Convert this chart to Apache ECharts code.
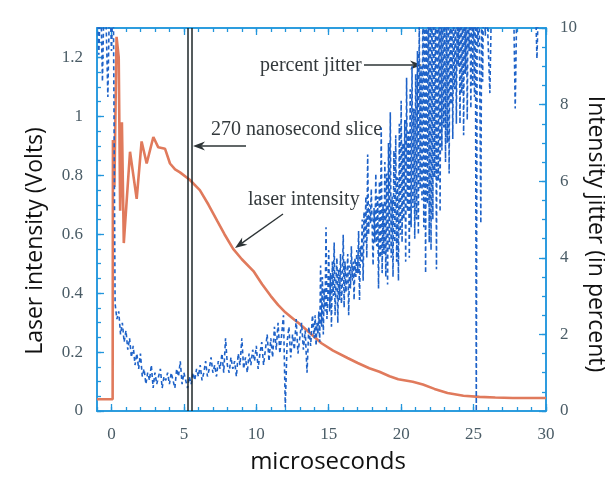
<!DOCTYPE html>
<html>
<head>
<meta charset="utf-8">
<script src="https://cdn.jsdelivr.net/npm/echarts@6/dist/echarts.min.js"></script>
<style>html,body{margin:0;padding:0;background:#fff}#c{width:605px;height:481px}</style>
</head>
<body>
<div id="c"></div>
<script>
// ---- data ----
// laser intensity (Volts) vs time (microseconds)
const laserTime = [-1, 0.08, 0.1, 0.2, 0.35, 0.5, 0.6, 0.72, 0.85, 1.28, 1.74, 2.08, 2.43, 2.89, 3.23, 3.7, 4.04, 4.39, 4.73, 5.4, 6.1, 6.7, 7.3, 7.8, 8.4, 9.0, 9.8, 10.4, 11.0, 11.5, 12.0, 12.5, 13.0, 13.7, 14.5, 15.3, 16.3, 17.0, 17.8, 18.5, 19.2, 19.8, 20.8, 21.5, 22.3, 23.2, 24.3, 25.4, 26.5, 27.7, 30];
const laserVolts = [0.04, 0.04, 0.92, 0.76, 1.27, 1.2, 0.68, 0.98, 0.57, 0.88, 0.72, 0.915, 0.84, 0.93, 0.895, 0.89, 0.84, 0.82, 0.81, 0.785, 0.75, 0.70, 0.645, 0.60, 0.55, 0.515, 0.475, 0.43, 0.39, 0.36, 0.335, 0.315, 0.295, 0.265, 0.23, 0.205, 0.18, 0.163, 0.145, 0.133, 0.118, 0.108, 0.099, 0.09, 0.075, 0.061, 0.052, 0.048, 0.046, 0.044, 0.044];

// percent jitter, sampled on regular grids
const jitterEarlyStart = -1, jitterEarlyStep = 0.125;   // -1 .. 13.875
const jitterEarly = [
  11, 9.3, 11, 8.6, 11, 10.2, 8.2, 11,
  9.4, 11, 2.8, 2.4, 2.6, 2.0, 2.3, 1.8,
  2.1, 1.6, 1.9, 1.4, 1.7, 1.2, 1.5, 1.1,
  1.5, 0.9, 1.1, 0.7, 1.0, 0.8, 1.2, 0.6,
  1.0, 0.7, 0.9, 1.1, 0.6, 0.9, 0.8, 1.0,
  0.7, 1.0, 0.8, 0.6, 1.1, 0.9, 1.3, 0.7,
  1.0, 0.8, 0.6, 0.9, 0.7, 1.0, 0.8, 1.1,
  0.9, 1.2, 0.8, 1.0, 1.3, 0.9, 1.1, 1.4,
  1.0, 1.2, 0.9, 1.3, 1.1, 1.5, 1.0, 1.9,
  1.2, 1.0, 1.4, 1.1, 1.3, 0.9, 1.5, 1.2,
  1.9, 1.1, 1.4, 1.0, 1.5, 1.2, 1.6, 1.3,
  1.7, 1.1, 1.5, 1.8, 1.2, 1.6, 2.0, 1.3,
  1.9, 1.4, 2.2, 1.6, 2.3, 1.5, 2.0, 2.5,
  0.1, 1.8, 2.2, 1.4, 2.0, 1.6, 2.4, 1.5,
  1.9, 2.3, 1.6, 2.1, 1.0, 2.2, 1.7, 2.5
];
const jitterMidStart = 14, jitterMidStep = 0.0625;      // 14 .. 25.9375
const jitterMid = [
  1.9, 2.5, 1.7, 2.3, 2.0, 2.6, 1.8, 3.8, 2.2, 3.5, 2.0, 3.2, 2.6, 4.8, 2.4, 3.0,
  4.2, 2.6, 3.6, 2.2, 3.9, 3.0, 4.4, 2.5, 3.4, 4.0, 2.3, 3.7, 2.9, 4.1, 2.8, 3.3,
  4.6, 2.7, 3.9, 3.1, 3.5, 4.1, 2.5, 3.8, 3.2, 4.3, 3.4, 3.9, 2.9, 4.0, 3.5, 4.2,
  3.6, 4.7, 2.9, 4.3, 3.9, 5.0, 3.4, 5.2, 4.4, 5.6, 4.0, 6.7, 4.6, 5.4, 4.9, 5.8,
  5.8, 3.8, 5.3, 4.4, 6.2, 4.3, 5.6, 3.2, 6.0, 4.0, 7.4, 3.6, 5.4, 4.1, 6.5, 3.5,
  6.2, 3.3, 7.0, 4.2, 7.8, 4.0, 5.6, 3.5, 6.8, 4.4, 7.2, 3.9, 6.1, 3.4, 7.5, 4.6,
  8.1, 4.4, 7.0, 5.0, 7.6, 3.9, 8.7, 5.2, 7.3, 4.0, 8.4, 4.8, 9.0, 5.3, 7.9, 4.5,
  8.8, 5.0, 9.4, 4.6, 10.4, 5.8, 9.0, 5.5, 11, 4.8, 11, 3.6, 11, 5.4, 11, 4.4,
  11, 4.2, 11, 5.0, 11, 6.1, 11, 3.7, 11, 6.0, 11, 5.2, 11, 6.8, 11, 7.4,
  11, 6.5, 11, 7.0, 11, 6.2, 11, 8.0, 11, 7.1, 11, 8.4, 11, 7.5, 11, 9.0,
  11, 7.5, 11, 8.3, 11, 7.2, 11, 8.8, 11, 7.6, 11, 9.4, 11, 7.9, 11, 8.5,
  11, 8.2, 11, 0.0, 11, 9.5, 11, 11, 4.9, 11, 8.6, 11, 11, 9.8, 11, 11
];
const jitterLateStart = 26, jitterLateStep = 0.125;     // 26 .. 30
const jitterLate = [
  11, 8.3, 11, 11, 11, 11, 11, 11,
  11, 11, 11, 11, 11, 11, 11, 7.9,
  11, 11, 11, 11, 11, 11, 11, 11,
  11, 11, 11, 9.2, 11, 11, 11, 11,
  11
];

// 270 ns slice boundaries (microseconds)
const sliceEdges = [5.3, 5.57];

// ticks
const timeMajorTicks = [0, 5, 10, 15, 20, 25, 30];
const timeMinorTicks = [-1, 0, 1, 2, 3, 4, 5, 6, 7, 8, 9, 10, 11, 12, 13, 14, 15, 16, 17, 18, 19, 20, 21, 22, 23, 24, 25, 26, 27, 28, 29, 30];
const voltMajorTicks = [0, 0.2, 0.4, 0.6, 0.8, 1, 1.2];
const voltMinorTicks = [0, 0.05, 0.1, 0.15, 0.2, 0.25, 0.3, 0.35, 0.4, 0.45, 0.5, 0.55, 0.6, 0.65, 0.7, 0.75, 0.8, 0.85, 0.9, 0.95, 1, 1.05, 1.1, 1.15, 1.2, 1.25, 1.3];
const jitterMajorTicks = [0, 2, 4, 6, 8, 10];
const jitterMinorTicks = [0, 0.5, 1, 1.5, 2, 2.5, 3, 3.5, 4, 4.5, 5, 5.5, 6, 6.5, 7, 7.5, 8, 8.5, 9, 9.5, 10];

// ---- chart ----
const AXIS = '#2196dc';
const LABEL = '#4a5c66';
const SERIF = '"Liberation Serif", "DejaVu Serif", serif';
const SANS = '"Open Sans", "Noto Sans", sans-serif';

const laserData = laserTime.map((t, i) => [t, laserVolts[i]]);
const seg = (start, step, vals) => vals.map((v, i) => [start + i * step, v]);
const jitterData = [].concat(
  seg(jitterEarlyStart, jitterEarlyStep, jitterEarly),
  seg(jitterMidStart, jitterMidStep, jitterMid),
  seg(jitterLateStart, jitterLateStep, jitterLate)
);

function axisBase(extra) {
  return Object.assign({
    type: 'value',
    splitLine: { show: false },
    axisLine: { show: true, onZero: false, lineStyle: { color: AXIS, width: 1.5 } },
  }, extra);
}
function ticks(values, len) {
  return { show: true, inside: true, length: len, customValues: values, lineStyle: { color: AXIS, width: 1.3 } };
}
const lab = (values, margin) => ({ show: true, customValues: values, margin: margin, color: LABEL, fontFamily: SERIF, fontSize: 17 });

const chart = echarts.init(document.getElementById('c'), null, { renderer: 'canvas' });

function arrow(x1, y1, x2, y2) {
  const ang = Math.atan2(y2 - y1, x2 - x1);
  const L = 12, W = 4.5;
  const bx = x2 - L * Math.cos(ang), by = y2 - L * Math.sin(ang);
  const nx = -Math.sin(ang), ny = Math.cos(ang);
  const mx = x2 - 0.7 * L * Math.cos(ang), my = y2 - 0.7 * L * Math.sin(ang);
  return [
    { type: 'line', shape: { x1: x1, y1: y1, x2: mx, y2: my }, style: { stroke: '#2d3436', lineWidth: 1.3 } },
    { type: 'polygon', shape: { points: [[x2, y2], [bx + nx * W, by + ny * W], [mx, my], [bx - nx * W, by - ny * W]] }, style: { fill: '#2d3436' } }
  ];
}

const annText = (text, x, y) => ({ type: 'text', x: x, y: y, style: { text: text, font: '20px ' + SERIF, fill: '#33393c', textAlign: 'left', textVerticalAlign: 'middle' } });

chart.setOption({
  animation: false,
  backgroundColor: '#ffffff',
  grid: { left: 97, right: 59, top: 28, bottom: 70, containLabel: false },
  xAxis: [
    axisBase({ min: -1, max: 30, position: 'bottom', axisTick: ticks(timeMajorTicks, 7), axisLabel: lab(timeMajorTicks, 15) }),
    axisBase({ min: -1, max: 30, position: 'bottom', axisTick: ticks(timeMinorTicks, 4), axisLabel: { show: false } }),
    axisBase({ min: -1, max: 30, position: 'top', axisTick: ticks(timeMajorTicks, 7), axisLabel: { show: false } }),
    axisBase({ min: -1, max: 30, position: 'top', axisTick: ticks(timeMinorTicks, 4), axisLabel: { show: false } })
  ],
  yAxis: [
    axisBase({ min: 0, max: 1.3, position: 'left', axisTick: ticks(voltMajorTicks, 7), axisLabel: lab(voltMajorTicks, 14) }),
    axisBase({ min: 0, max: 10, position: 'right', axisTick: ticks(jitterMajorTicks, 7), axisLabel: lab(jitterMajorTicks, 14) }),
    axisBase({ min: 0, max: 1.3, position: 'left', axisTick: ticks(voltMinorTicks, 4), axisLabel: { show: false } }),
    axisBase({ min: 0, max: 10, position: 'right', axisTick: ticks(jitterMinorTicks, 4), axisLabel: { show: false } })
  ],
  series: [
    {
      name: 'laser intensity', type: 'line', xAxisIndex: 0, yAxisIndex: 0,
      data: laserData, showSymbol: false, smooth: false, clip: true,
      lineStyle: { color: '#e07a5c', width: 2.6 }, z: 2,
      markLine: {
        silent: true, symbol: ['none', 'none'], label: { show: false },
        lineStyle: { color: '#1c2628', width: 1.5, type: 'solid' },
        data: sliceEdges.map(x => ({ xAxis: x }))
      }
    },
    {
      name: 'percent jitter', type: 'line', xAxisIndex: 0, yAxisIndex: 1,
      data: jitterData, showSymbol: false, smooth: false, clip: true,
      lineStyle: { color: '#1e62c8', width: 1.6, type: [4, 3] }, z: 3
    }
  ],
  graphic: [
    annText('percent jitter', 260, 66),
    ...arrow(364, 65, 422, 65),
    annText('270 nanosecond slice', 211, 130),
    ...arrow(246, 146, 193, 146),
    annText('laser intensity', 248, 200),
    ...arrow(283, 214, 235, 248),
    { type: 'text', x: 35, y: 241, rotation: Math.PI / 2, style: { text: 'Laser intensity (Volts)', font: '23px ' + SANS, fill: '#111', textAlign: 'center', textVerticalAlign: 'middle' } },
    { type: 'text', x: 596, y: 234, rotation: -Math.PI / 2, style: { text: 'Intensity jitter (in percent)', font: '23px ' + SANS, fill: '#111', textAlign: 'center', textVerticalAlign: 'middle' } },
    { type: 'text', x: 328, y: 462, style: { text: 'microseconds', font: '24px ' + SANS, fill: '#111', textAlign: 'center', textVerticalAlign: 'middle' } }
  ]
});
</script>
</body>
</html>
